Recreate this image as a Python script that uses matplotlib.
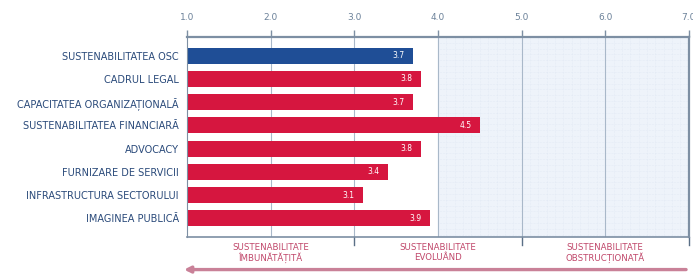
import numpy as np
import matplotlib.pyplot as plt

categories = ["SUSTENABILITATEA OSC", "CADRUL LEGAL", "CAPACITATEA ORGANIZAȚIONALĂ",
              "SUSTENABILITATEA FINANCIARĂ", "ADVOCACY", "FURNIZARE DE SERVICII",
              "INFRASTRUCTURA SECTORULUI", "IMAGINEA PUBLICĂ"]
values = [3.7, 3.8, 3.7, 4.5, 3.8, 3.4, 3.1, 3.9]
x_ticks = [1.0, 2.0, 3.0, 4.0, 5.0, 6.0, 7.0]
zones = ["SUSTENABILITATE\nÎMBUNĂTĂȚITĂ", "SUSTENABILITATE\nEVOLUÂND", "SUSTENABILITATE\nOBSTRUCȚIONATĂ"]
zone_centers = [2.0, 4.0, 6.0]

blue = "#1f4e96"
red = "#d6163f"
axis_col = "#7d8fa3"

plt.rcParams['font.family'] = ['DejaVu Sans']
fig = plt.figure(figsize=(6.93, 2.74), dpi=100)
ax = fig.add_axes([0.270, 0.135, 0.724, 0.73])

# fundal albastru deschis cu grila fina
ax.axvspan(4.0, 7.0, color="#eef3fa", zorder=0)
for xx in np.arange(4.0, 7.0, 0.1):
    ax.axvline(xx, color="#dbe4f1", lw=0.4, ls=":", zorder=0.5)
for yy in np.arange(-0.8, 7.8, 0.25):
    ax.plot([4.0, 7.0], [yy, yy], color="#dbe4f1", lw=0.4, ls=":", zorder=0.5)

for xx in x_ticks[1:-1]:
    ax.axvline(xx, color="#a9b8c9", lw=0.8, zorder=1)

y = np.arange(len(categories))
colors = [blue] + [red] * (len(categories) - 1)
ax.barh(y, [v - 1.0 for v in values], left=1.0, height=0.68, color=colors, zorder=2)
for yi, v in zip(y, values):
    ax.text(v - 0.1, yi, f"{v:.1f}", color="white", fontsize=5.5, ha="right", va="center", zorder=3)

ax.set_xlim(1.0, 7.0)
ax.set_ylim(7.8, -0.8)
ax.set_yticks(y)
ax.set_yticklabels(categories, fontsize=7, color="#2a4a7a")
ax.tick_params(axis="y", length=0, pad=6)

ax.xaxis.tick_top()
ax.set_xticks(x_ticks)
ax.set_xticklabels([f"{t:.1f}" for t in x_ticks], fontsize=6.5, color="#6b8199")
ax.tick_params(axis="x", length=5, width=1, color=axis_col, pad=6)

for side in ["top", "left", "right", "bottom"]:
    ax.spines[side].set_color(axis_col)
ax.spines["top"].set_linewidth(1.6)
ax.spines["right"].set_linewidth(1.6)
ax.spines["left"].set_linewidth(0.8)
ax.spines["bottom"].set_linewidth(1.2)

# zone de jos
for xx in [3.0, 5.0, 7.0]:
    ax.plot([xx, xx], [7.8, 8.15], color="#5a6f86", lw=1, clip_on=False)
for xc, lab in zip(zone_centers, zones):
    ax.text(xc, 8.05, lab, color="#c0476a", fontsize=6.2, ha="center", va="top",
            linespacing=1.1, clip_on=False)

ax.annotate("", xy=(0.93, 9.2), xytext=(7.0, 9.2), xycoords="data",
            arrowprops=dict(arrowstyle="-|>", color="#c98198", lw=2.4, mutation_scale=9),
            annotation_clip=False)

fig.savefig("out.png", dpi=100)
